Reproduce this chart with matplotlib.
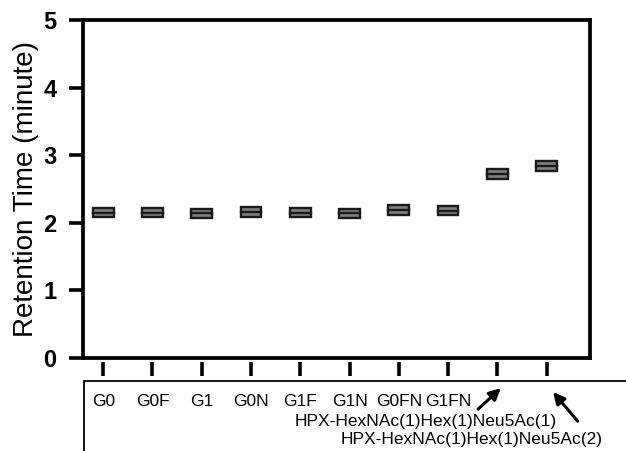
import numpy as np
import matplotlib.pyplot as plt
from matplotlib.patches import Rectangle

plt.rcParams['font.family'] = ['Liberation Sans', 'DejaVu Sans']

# Glycan species and their retention time (min, mean, max)
glycans = ['G0', 'G0F', 'G1', 'G0N', 'G1F', 'G1N', 'G0FN', 'G1FN',
           'HPX-HexNAc(1)Hex(1)Neu5Ac(1)', 'HPX-HexNAc(1)Hex(1)Neu5Ac(2)']
rt_mean = [2.15, 2.15, 2.14, 2.16, 2.15, 2.14, 2.19, 2.18, 2.72, 2.84]
rt_min = [2.08, 2.08, 2.07, 2.09, 2.08, 2.07, 2.12, 2.11, 2.65, 2.77]
rt_max = [2.22, 2.22, 2.21, 2.23, 2.22, 2.21, 2.26, 2.25, 2.79, 2.91]
y_ticks = [0, 1, 2, 3, 4, 5]

fig = plt.figure(figsize=(6.26, 4.51), dpi=100)
ax = fig.add_axes([0.1326, 0.2062, 0.8099, 0.7495])

x = np.arange(len(glycans))
w = 0.42
for xi, lo, m, hi in zip(x, rt_min, rt_mean, rt_max):
    ax.add_patch(Rectangle((xi - w / 2, lo), w, hi - lo, facecolor='#7f7f7f',
                           edgecolor='#1a1a1a', lw=1.7, zorder=3))
    ax.plot([xi - w / 2, xi + w / 2], [m, m], color='#1a1a1a', lw=1.7, zorder=4)

ax.set_xlim(-0.41, 9.88)
ax.set_ylim(0, 5)
ax.set_yticks(y_ticks)
ax.tick_params(axis='y', direction='out', length=10, width=2.6, pad=9,
               labelsize=17)
for t in ax.get_yticklabels():
    t.set_fontweight('bold')
ax.set_ylabel('Retention Time (minute)', fontsize=20, labelpad=3)
for s in ax.spines.values():
    s.set_linewidth(2.7)
ax.set_xticks([])

# offset x axis with ticks below the frame
sec = ax.secondary_xaxis('bottom')
sec.spines['bottom'].set_visible(False)
sec.spines['bottom'].set_position(('outward', 3))
sec.set_xticks(x)
sec.set_xticklabels(glycans[:8] + ['', ''])
sec.tick_params(axis='x', direction='out', length=10, width=2.6, pad=13,
                labelsize=12.5)

# labels of the last two species with arrows
ax.text(6.55, -0.935, glycans[8], ha='center', va='center', fontsize=12.5,
        clip_on=False)
ax.text(7.48, -1.20, glycans[9], ha='center', va='center', fontsize=12.5,
        clip_on=False)
arrow = dict(arrowstyle='-|>', color='black', lw=2.2, mutation_scale=17,
             shrinkA=0, shrinkB=0)
ax.annotate('', xy=(8.07, -0.445), xytext=(7.61, -0.757),
            annotation_clip=False, arrowprops=arrow)
ax.annotate('', xy=(9.13, -0.504), xytext=(9.63, -0.935),
            annotation_clip=False, arrowprops=arrow)

# frame around the label area
fig.patches.append(Rectangle((84 / 626, -0.1), 1.0, (451 - 381) / 451 + 0.1,
                             transform=fig.transFigure, fill=False,
                             edgecolor='black', lw=1.3))

fig.savefig('out.png', dpi=100)
